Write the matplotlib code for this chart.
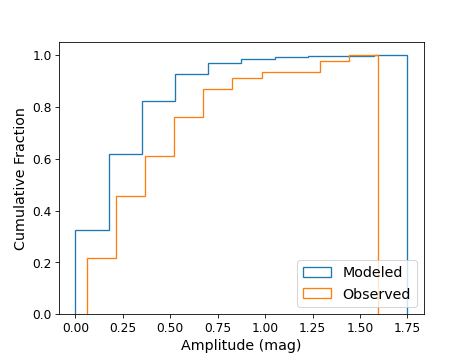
import matplotlib
matplotlib.use("Agg")
import numpy as np
import matplotlib.pyplot as plt

# Cumulative fractions, per bin
modeled_edges = np.linspace(0.0, 1.75, 11)
modeled_cum = [0.323, 0.620, 0.823, 0.926, 0.969, 0.986, 0.992, 0.996, 0.998, 1.0]

observed_edges = np.linspace(0.062, 1.594, 11)
observed_cum = [0.217, 0.457, 0.609, 0.761, 0.870, 0.913, 0.935, 0.935, 0.978, 1.0]

plt.rcParams["font.size"] = 12

plt.figure(figsize=(6.4, 4.8), dpi=73.6)

for edges, cum, name in [(modeled_edges, modeled_cum, "Modeled"),
                         (observed_edges, observed_cum, "Observed")]:
    centers = (edges[:-1] + edges[1:]) / 2
    weights = np.diff(np.concatenate([[0.0], cum]))
    plt.hist(centers, bins=edges, weights=weights, cumulative=True,
             histtype="step", linewidth=1.3, label=name)

plt.xlabel("Amplitude (mag)", fontsize=14)
plt.ylabel("Cumulative Fraction", fontsize=14)
plt.legend(loc="lower right", fontsize=14)
plt.savefig("out.png", dpi=73.6)
